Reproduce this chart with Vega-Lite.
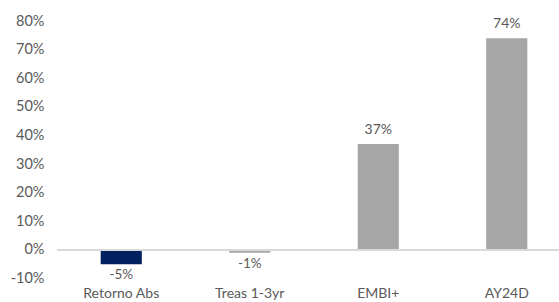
{
  "$schema": "https://vega.github.io/schema/vega-lite/v6.json",
  "autosize": {"type": "none"},
  "width": 502,
  "height": 257.6,
  "padding": {"left": 57, "top": 21, "right": 0, "bottom": 23.4},
  "background": "white",
  "config": {"view": {"stroke": null}, "font": "Lato",
    "locale": {"number": {"decimal": ".", "thousands": ",", "grouping": [3], "currency": ["$", ""], "minus": "-"}}},
  "data": {"values": [
    {"cat": "Retorno Abs", "v": -0.05, "hl": "a"},
    {"cat": "Treas 1-3yr", "v": -0.01, "hl": "b"},
    {"cat": "EMBI+", "v": 0.37, "hl": "b"},
    {"cat": "AY24D", "v": 0.74, "hl": "b"}
  ]},
  "encoding": {
    "x": {"field": "cat", "type": "nominal", "sort": null,
      "scale": {"paddingInner": 0.68, "paddingOuter": 0.34, "range": [0, 514]},
      "axis": {"title": null, "labelAngle": 0, "domain": false, "ticks": false, "labelPadding": 8, "labelFontSize": 14, "labelColor": "#595959", "labelFont": "Lato"}},
    "y": {"field": "v", "type": "quantitative",
      "scale": {"domain": [-0.1, 0.8], "nice": false},
      "axis": {"title": null, "format": ".0%", "values": [-0.1, 0, 0.1, 0.2, 0.3, 0.4, 0.5, 0.6, 0.7, 0.8], "domain": false, "ticks": false, "grid": false, "labelPadding": 13, "labelFontSize": 14.5, "labelColor": "#595959", "labelFont": "Lato"}}
  },
  "layer": [
    {"mark": {"type": "bar"},
     "encoding": {"color": {"field": "hl", "type": "nominal", "scale": {"domain": ["a", "b"], "range": ["#002060", "#A6A6A6"]}, "legend": null}}},
    {"mark": {"type": "rule", "color": "#D9D9D9", "strokeWidth": 1.5},
     "encoding": {"y": {"datum": 0}, "x": null}},
    {"transform": [{"filter": "datum.v >= 0"}],
     "mark": {"type": "text", "baseline": "bottom", "dy": -7, "fontSize": 14, "color": "#595959"},
     "encoding": {"text": {"field": "v", "type": "quantitative", "format": ".0%"}}},
    {"transform": [{"filter": "datum.v < 0"}],
     "mark": {"type": "text", "baseline": "top", "dy": 4, "fontSize": 13.5, "color": "#595959"},
     "encoding": {"text": {"field": "v", "type": "quantitative", "format": ".0%"}}}
  ]
}
